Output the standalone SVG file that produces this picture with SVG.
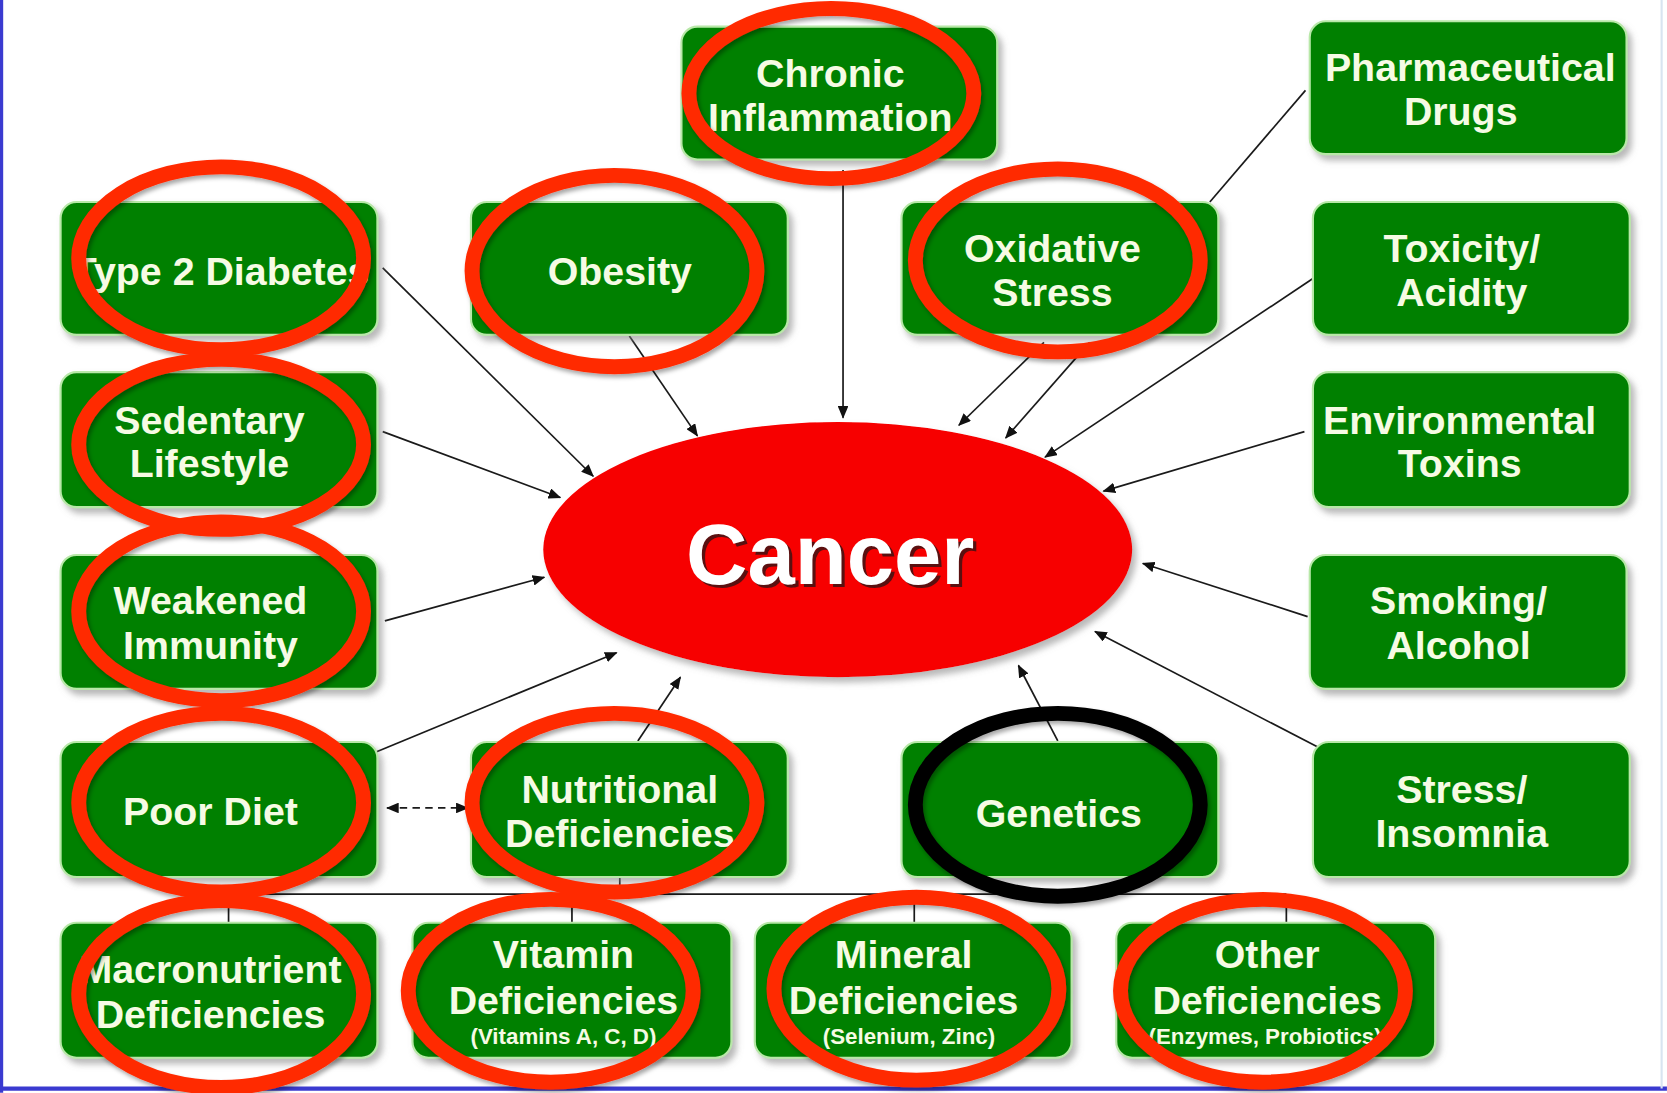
<svg xmlns="http://www.w3.org/2000/svg" width="1667" height="1093" viewBox="0 0 1667 1093">
<defs>
<style>
.box{fill:#058005;stroke:#b8e8a8;stroke-width:2}
.t{font-family:"Liberation Sans",Arial,sans-serif;font-weight:bold;font-size:37px;fill:#f6fbe4;text-anchor:middle}
.s{font-size:21px}
.ln{stroke:#1a1a1a;stroke-width:1.6;fill:none}
.ring{fill:none;stroke:#ff2a00;stroke-width:14}
.ringk{fill:none;stroke:#000;stroke-width:14}
</style>
<marker id="ah" viewBox="0 0 12 10" refX="11" refY="5" markerWidth="12" markerHeight="10" markerUnits="userSpaceOnUse" orient="auto-start-reverse">
<path d="M0,0 L12,5 L0,10 z" fill="#111"/>
</marker>
<filter id="sh" x="-10%" y="-10%" width="130%" height="140%">
<feDropShadow dx="4" dy="5" stdDeviation="3" flood-color="#808080" flood-opacity="0.55"/>
</filter>
<filter id="rsh" x="-10%" y="-10%" width="130%" height="130%">
<feDropShadow dx="2" dy="3" stdDeviation="2" flood-color="#000" flood-opacity="0.35"/>
</filter>
</defs>
<rect width="1667" height="1093" fill="#ffffff"/>
<g transform="scale(1.0631)">
<line x1="1.5" y1="0" x2="1.5" y2="1028" stroke="#3a3ad0" stroke-width="3"/>
<line x1="0" y1="1024" x2="1568" y2="1024" stroke="#3a3ad0" stroke-width="4"/>
<line x1="1563" y1="0" x2="1563" y2="1024" stroke="#d8e4f0" stroke-width="2"/>

<g id="connectors">
<path class="ln" d="M360,252 L558,448" marker-end="url(#ah)"/>
<path class="ln" d="M592,316 L656,410" marker-end="url(#ah)"/>
<path class="ln" d="M793,160 L793,393" marker-end="url(#ah)"/>
<path class="ln" d="M982,322 L902,400" marker-end="url(#ah)"/>
<path class="ln" d="M1025,322 L946,412" marker-end="url(#ah)"/>
<path class="ln" d="M1228,85 L1138,190"/>
<path class="ln" d="M1235,262 L983,430" marker-end="url(#ah)"/>
<path class="ln" d="M1227,406 L1038,462" marker-end="url(#ah)"/>
<path class="ln" d="M1230,580 L1075,530" marker-end="url(#ah)"/>
<path class="ln" d="M1240,703 L1030,594" marker-end="url(#ah)"/>
<path class="ln" d="M995,697 L958,626" marker-end="url(#ah)"/>
<path class="ln" d="M600,697 L640,637" marker-end="url(#ah)"/>
<path class="ln" d="M352,708 L580,614" marker-end="url(#ah)"/>
<path class="ln" d="M362,584 L512,543" marker-end="url(#ah)"/>
<path class="ln" d="M360,406 L527,468" marker-end="url(#ah)"/>
<path class="ln" d="M364,760 L440,760" stroke-dasharray="7,5" marker-start="url(#ah)" marker-end="url(#ah)"/>
<path class="ln" d="M583,825 V841 M215,841 H1210 M215,841 V868 M538,841 V868 M860,841 V868 M1210,841 V868"/>
</g>

<g id="cancer">
<ellipse cx="788" cy="517" rx="277" ry="120" fill="#f70000" filter="url(#sh)"/>
<text x="781" y="549" font-family="Liberation Sans,Arial,sans-serif" font-weight="bold" font-size="80" text-anchor="middle" fill="#5a1010" transform="translate(3,3)">Cancer</text>
<text x="781" y="549" font-family="Liberation Sans,Arial,sans-serif" font-weight="bold" font-size="80" text-anchor="middle" fill="#ffffff">Cancer</text>
</g>

<g id="chronic-inflammation"><rect class="box" x="641" y="25" width="297" height="125" rx="15" filter="url(#sh)"/><text class="t" x="781" y="82">Chronic</text><text class="t" x="781" y="123">Inflammation</text></g>
<g id="pharmaceutical-drugs"><rect class="box" x="1232" y="20" width="298" height="125" rx="15" filter="url(#sh)"/><text class="t" x="1383" y="76">Pharmaceutical</text><text class="t" x="1374" y="118">Drugs</text></g>

<g id="type2-diabetes"><rect class="box" x="57" y="190" width="298" height="125" rx="15" filter="url(#sh)"/><text class="t" x="208" y="268">Type 2 Diabetes</text></g>
<g id="obesity"><rect class="box" x="443" y="190" width="298" height="125" rx="15" filter="url(#sh)"/><text class="t" x="583" y="268">Obesity</text></g>
<g id="oxidative-stress"><rect class="box" x="848" y="190" width="298" height="125" rx="15" filter="url(#sh)"/><text class="t" x="990" y="246">Oxidative</text><text class="t" x="990" y="288">Stress</text></g>
<g id="toxicity-acidity"><rect class="box" x="1235" y="190" width="298" height="125" rx="15" filter="url(#sh)"/><text class="t" x="1375" y="246">Toxicity/</text><text class="t" x="1375" y="288">Acidity</text></g>

<g id="sedentary-lifestyle"><rect class="box" x="57" y="350" width="298" height="127" rx="15" filter="url(#sh)"/><text class="t" x="197" y="408">Sedentary</text><text class="t" x="197" y="449">Lifestyle</text></g>
<g id="environmental-toxins"><rect class="box" x="1235" y="350" width="298" height="127" rx="15" filter="url(#sh)"/><text class="t" x="1373" y="408">Environmental</text><text class="t" x="1373" y="449">Toxins</text></g>

<g id="weakened-immunity"><rect class="box" x="57" y="522" width="298" height="126" rx="15" filter="url(#sh)"/><text class="t" x="198" y="578">Weakened</text><text class="t" x="198" y="620">Immunity</text></g>
<g id="smoking-alcohol"><rect class="box" x="1232" y="522" width="298" height="126" rx="15" filter="url(#sh)"/><text class="t" x="1372" y="578">Smoking/</text><text class="t" x="1372" y="620">Alcohol</text></g>

<g id="poor-diet"><rect class="box" x="57" y="698" width="298" height="127" rx="15" filter="url(#sh)"/><text class="t" x="198" y="776">Poor Diet</text></g>
<g id="nutritional-deficiencies"><rect class="box" x="443" y="698" width="298" height="127" rx="15" filter="url(#sh)"/><text class="t" x="583" y="755">Nutritional</text><text class="t" x="583" y="797">Deficiencies</text></g>
<g id="genetics"><rect class="box" x="848" y="698" width="298" height="127" rx="15" filter="url(#sh)"/><text class="t" x="996" y="778">Genetics</text></g>
<g id="stress-insomnia"><rect class="box" x="1235" y="698" width="298" height="127" rx="15" filter="url(#sh)"/><text class="t" x="1375" y="755">Stress/</text><text class="t" x="1375" y="797">Insomnia</text></g>

<g id="macronutrient-deficiencies"><rect class="box" x="57" y="868" width="298" height="127" rx="15" filter="url(#sh)"/><text class="t" x="198" y="925">Macronutrient</text><text class="t" x="198" y="967">Deficiencies</text></g>
<g id="vitamin-deficiencies"><rect class="box" x="388" y="868" width="300" height="127" rx="15" filter="url(#sh)"/><text class="t" x="530" y="911">Vitamin</text><text class="t" x="530" y="954">Deficiencies</text><text class="t s" x="530" y="982">(Vitamins A, C, D)</text></g>
<g id="mineral-deficiencies"><rect class="box" x="710" y="868" width="298" height="127" rx="15" filter="url(#sh)"/><text class="t" x="850" y="911">Mineral</text><text class="t" x="850" y="954">Deficiencies</text><text class="t s" x="855" y="982">(Selenium, Zinc)</text></g>
<g id="other-deficiencies"><rect class="box" x="1050" y="868" width="300" height="127" rx="15" filter="url(#sh)"/><text class="t" x="1192" y="911">Other</text><text class="t" x="1192" y="954">Deficiencies</text><text class="t s" x="1190" y="982">(Enzymes, Probiotics)</text></g>

<g id="annotations" filter="url(#rsh)">
<ellipse class="ring" cx="782" cy="88" rx="134" ry="80"/>
<ellipse class="ring" cx="208" cy="243" rx="134" ry="86"/>
<ellipse class="ring" cx="578" cy="255" rx="134" ry="90"/>
<ellipse class="ring" cx="995" cy="245" rx="134" ry="86"/>
<ellipse class="ring" cx="208" cy="418" rx="134" ry="80"/>
<ellipse class="ring" cx="208" cy="575" rx="134" ry="84"/>
<ellipse class="ring" cx="208" cy="755" rx="134" ry="84"/>
<ellipse class="ring" cx="578" cy="755" rx="134" ry="84"/>
<ellipse class="ringk" cx="995" cy="757" rx="134" ry="86"/>
<ellipse class="ring" cx="208" cy="935" rx="134" ry="88"/>
<ellipse class="ring" cx="518" cy="932" rx="134" ry="86"/>
<ellipse class="ring" cx="862" cy="930" rx="134" ry="86"/>
<ellipse class="ring" cx="1188" cy="932" rx="134" ry="86"/>
</g>
</g>
</svg>
